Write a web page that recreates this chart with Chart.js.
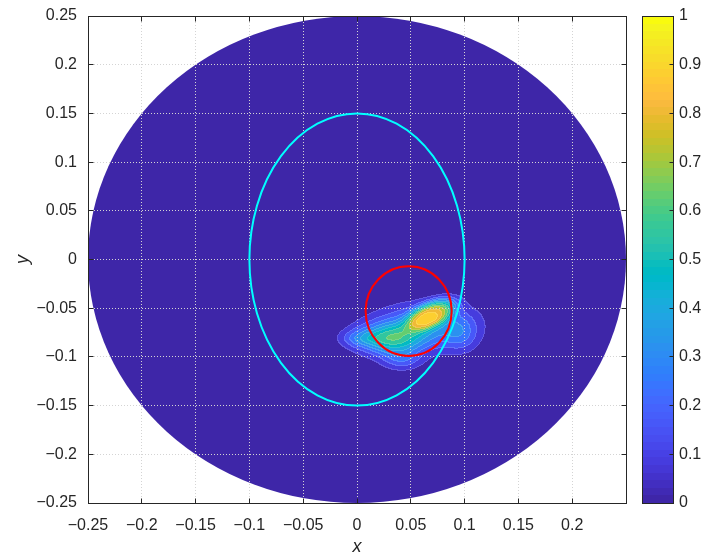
<!DOCTYPE html>
<html>
<head>
<meta charset="utf-8">
<script src="https://cdn.jsdelivr.net/npm/chart.js@4.4.1/dist/chart.umd.min.js"></script>
<style>
  html, body { margin: 0; padding: 0; background: #fff; }
  canvas { display: block; }
</style>
</head>
<body>
<canvas id="myChart" width="702" height="560"></canvas>
<script>
// axis ticks
const xTicks = [-0.25, -0.2, -0.15, -0.1, -0.05, 0, 0.05, 0.1, 0.15, 0.2];
const yTicks = [-0.25, -0.2, -0.15, -0.1, -0.05, 0, 0.05, 0.1, 0.15, 0.2, 0.25];
const cbTicks = [0, 0.1, 0.2, 0.3, 0.4, 0.5, 0.6, 0.7, 0.8, 0.9, 1];

// contour levels of the filled plot
const levels = [0.08, 0.16, 0.24, 0.32, 0.4, 0.48, 0.56, 0.64, 0.72, 0.8, 0.88];

// disk the field lives on (radius, data units)
const domainRadius = 0.25;

// bumps that make up the intensity blob
const bumpX = [0.069, 0.06, 0.03, 0.002, 0.042, 0.097];
const bumpY = [-0.057, -0.07, -0.082, -0.081, -0.103, -0.077];
const bumpAmp = [0.65, 0.36, 0.44, 0.15, 0.18, 0.17];
const bumpSx = [0.019, 0.032, 0.02, 0.012, 0.013, 0.011];
const bumpSy = [0.0095, 0.016, 0.0105, 0.006, 0.008, 0.013];
const bumpAngle = [28, 5, 0, 0, 0, 0];
const bumpPow = [1.5, 1, 1, 1, 1, 1];

// overlay curves: center x, center y, radius x, radius y
const cyanEllipse = [0, 0, 0.1, 0.15];
const redCircle = [0.048, -0.053, 0.04, 0.046];

// parula, 64 entries
const parula = [
  [0.2422,0.1504,0.6603],[0.2504,0.1650,0.7076],[0.2578,0.1818,0.7511],[0.2647,0.1978,0.7952],
  [0.2706,0.2147,0.8364],[0.2751,0.2342,0.8710],[0.2783,0.2559,0.8991],[0.2803,0.2782,0.9221],
  [0.2813,0.3006,0.9414],[0.2810,0.3228,0.9579],[0.2795,0.3447,0.9717],[0.2760,0.3667,0.9829],
  [0.2699,0.3892,0.9906],[0.2602,0.4123,0.9952],[0.2440,0.4358,0.9988],[0.2206,0.4603,0.9973],
  [0.1963,0.4847,0.9892],[0.1834,0.5074,0.9798],[0.1786,0.5289,0.9682],[0.1764,0.5499,0.9520],
  [0.1687,0.5703,0.9359],[0.1540,0.5902,0.9218],[0.1460,0.6091,0.9079],[0.1380,0.6276,0.8973],
  [0.1248,0.6459,0.8883],[0.1113,0.6635,0.8763],[0.0952,0.6798,0.8598],[0.0689,0.6948,0.8394],
  [0.0297,0.7082,0.8163],[0.0036,0.7203,0.7917],[0.0067,0.7312,0.7660],[0.0433,0.7411,0.7394],
  [0.0964,0.7500,0.7120],[0.1408,0.7584,0.6842],[0.1717,0.7670,0.6554],[0.1938,0.7758,0.6251],
  [0.2161,0.7843,0.5923],[0.2470,0.7918,0.5567],[0.2906,0.7973,0.5188],[0.3406,0.8008,0.4789],
  [0.3909,0.8029,0.4354],[0.4456,0.8024,0.3909],[0.5044,0.7993,0.3480],[0.5616,0.7942,0.3045],
  [0.6174,0.7876,0.2612],[0.6720,0.7793,0.2227],[0.7242,0.7698,0.1910],[0.7738,0.7598,0.1646],
  [0.8203,0.7498,0.1535],[0.8634,0.7406,0.1596],[0.9035,0.7330,0.1774],[0.9393,0.7288,0.2100],
  [0.9728,0.7298,0.2394],[0.9956,0.7434,0.2371],[0.9970,0.7659,0.2199],[0.9952,0.7893,0.2028],
  [0.9892,0.8136,0.1885],[0.9818,0.8380,0.1758],[0.9743,0.8628,0.1641],[0.9672,0.8872,0.1535],
  [0.9615,0.9115,0.1427],[0.9583,0.9351,0.1311],[0.9598,0.9594,0.1150],[0.9764,0.9831,0.0538]
];

const axisColor = "#262626";
const fontFamily = "'Liberation Sans', Arial, sans-serif";

function parulaRGB(v) {
  const i = Math.max(0, Math.min(63, Math.floor(v * 64)));
  return parula[i].map((c) => Math.round(c * 255));
}
function rgbStr(c) {
  return `rgb(${c[0]},${c[1]},${c[2]})`;
}

function field(x, y) {
  let s = 0;
  for (let i = 0; i < bumpAmp.length; i++) {
    const dx = x - bumpX[i];
    const dy = y - bumpY[i];
    const a = (bumpAngle[i] * Math.PI) / 180;
    const u = dx * Math.cos(a) + dy * Math.sin(a);
    const v = -dx * Math.sin(a) + dy * Math.cos(a);
    const r2 = (u / bumpSx[i]) ** 2 + (v / bumpSy[i]) ** 2;
    s += bumpAmp[i] * Math.exp(-0.5 * Math.pow(r2, bumpPow[i]));
  }
  return s;
}

function bandOf(f) {
  let b = -1;
  for (let i = 0; i < levels.length; i++) if (f >= levels[i]) b = i;
  return b;
}

const fmt = (v) => String(Math.round(v * 100) / 100).replace("-", "\u2212");

// filled disk + contour bands, under the grid
const fieldLayer = {
  id: "fieldLayer",
  beforeDraw(chart) {
    const { ctx, chartArea: a } = chart;
    const xs = chart.scales.x;
    const ys = chart.scales.y;
    ctx.save();
    ctx.fillStyle = "#fff";
    ctx.fillRect(0, 0, chart.width, chart.height);

    const cx = xs.getPixelForValue(0);
    const cy = ys.getPixelForValue(0);
    const rx = xs.getPixelForValue(domainRadius) - cx;
    const ry = cy - ys.getPixelForValue(domainRadius);
    ctx.fillStyle = rgbStr(parulaRGB(0));
    ctx.beginPath();
    ctx.ellipse(cx, cy, rx, ry, 0, 0, 2 * Math.PI);
    ctx.fill();

    const w = Math.round(a.right - a.left);
    const h = Math.round(a.bottom - a.top);
    const off = document.createElement("canvas");
    off.width = w;
    off.height = h;
    const octx = off.getContext("2d");
    const img = octx.createImageData(w, h);
    const band = new Int8Array(w * h);
    for (let j = 0; j < h; j++) {
      const yv = ys.getValueForPixel(a.top + j + 0.5);
      for (let i = 0; i < w; i++) {
        const xv = xs.getValueForPixel(a.left + i + 0.5);
        band[j * w + i] = bandOf(field(xv, yv));
      }
    }
    const cols = levels.map((l) => parulaRGB(l));
    for (let j = 0; j < h; j++) {
      for (let i = 0; i < w; i++) {
        const k = j * w + i;
        let b = band[k];
        let edge = false;
        if (i + 1 < w && band[k + 1] !== b) { edge = true; b = Math.max(b, band[k + 1]); }
        if (j + 1 < h && band[k + w] !== band[k]) { edge = true; b = Math.max(b, band[k + w]); }
        if (b < 0) continue;
        let c = cols[b];
        if (edge) c = c.map((v) => Math.round(v * 0.85 + 255 * 0.15));
        img.data[k * 4] = c[0];
        img.data[k * 4 + 1] = c[1];
        img.data[k * 4 + 2] = c[2];
        img.data[k * 4 + 3] = 255;
      }
    }
    octx.putImageData(img, 0, 0);
    ctx.drawImage(off, a.left, a.top);
    ctx.restore();
  },
};

const align = (p) => Math.round(p - 0.5) + 0.5;

// curves, axes box, inward ticks and the colour bar
const overlay = {
  id: "overlay",
  afterDraw(chart) {
    const { ctx, chartArea: a } = chart;
    const xs = chart.scales.x;
    const ys = chart.scales.y;
    const cb = chart.scales.cb;
    ctx.save();

    const drawEll = (e, color) => {
      const cx = xs.getPixelForValue(e[0]);
      const cy = ys.getPixelForValue(e[1]);
      const rx = Math.abs(xs.getPixelForValue(e[0] + e[2]) - cx);
      const ry = Math.abs(ys.getPixelForValue(e[1] + e[3]) - cy);
      ctx.strokeStyle = color;
      ctx.lineWidth = 2;
      ctx.beginPath();
      ctx.ellipse(cx, cy, rx, ry, 0, 0, 2 * Math.PI);
      ctx.stroke();
    };
    drawEll(cyanEllipse, "#00ffff");
    drawEll(redCircle, "#ff0000");

    // box
    ctx.strokeStyle = axisColor;
    ctx.lineWidth = 1;
    const L = align(a.left), R = align(a.right), T = align(a.top), B = align(a.bottom);
    ctx.strokeRect(L, T, R - L, B - T);
    const tl = 5;
    ctx.beginPath();
    xTicks.forEach((v) => {
      const p = align(xs.getPixelForValue(v));
      ctx.moveTo(p, B); ctx.lineTo(p, B - tl);
      ctx.moveTo(p, T); ctx.lineTo(p, T + tl);
    });
    yTicks.forEach((v) => {
      const p = align(ys.getPixelForValue(v));
      ctx.moveTo(L, p); ctx.lineTo(L + tl, p);
      ctx.moveTo(R, p); ctx.lineTo(R - tl, p);
    });
    ctx.stroke();

    // colour bar
    const bx0 = cb.left + 16;
    const bx1 = cb.left + 47;
    for (let i = 0; i < 64; i++) {
      const top = Math.round(cb.getPixelForValue((i + 1) / 64));
      const bot = Math.round(cb.getPixelForValue(i / 64));
      ctx.fillStyle = rgbStr(parula[i].map((c) => Math.round(c * 255)));
      ctx.fillRect(bx0, top, bx1 - bx0, bot - top);
    }
    ctx.strokeStyle = axisColor;
    const cT = align(cb.top), cB = align(cb.bottom);
    ctx.strokeRect(align(bx0), cT, bx1 - bx0, cB - cT);
    ctx.beginPath();
    cbTicks.forEach((v) => {
      const p = align(cb.getPixelForValue(v));
      ctx.moveTo(align(bx1), p); ctx.lineTo(align(bx1) - 4, p);
    });
    ctx.stroke();
    ctx.restore();
  },
};

const tickFont = { family: fontFamily, size: 16 };
const titleFont = { family: fontFamily, size: 18, style: "italic" };
const clear = "rgba(0,0,0,0)";

const ctx = document.getElementById("myChart");
new Chart(ctx, {
  type: "scatter",
  data: { datasets: [] },
  options: {
    responsive: false,
    animation: false,
    layout: { padding: { top: 16, left: 0, right: 0, bottom: 0 } },
    plugins: { legend: { display: false }, tooltip: { enabled: false } },
    scales: {
      x: {
        type: "linear",
        position: "bottom",
        min: -0.25,
        max: 0.25,
        afterBuildTicks: (s) => { s.ticks = xTicks.map((v) => ({ value: v })); },
        afterFit: (s) => { s.height = 57; },
        grid: { color: "#d4d4d4", lineWidth: 1, drawTicks: true, tickLength: 13, tickColor: clear },
        border: { display: false, dash: [1, 2] },
        ticks: { padding: 0, color: axisColor, font: tickFont, maxRotation: 0, autoSkip: false, callback: (v) => fmt(v) },
        title: { display: true, text: "x", color: axisColor, font: titleFont, padding: { top: 0, bottom: 2 } },
      },
      y: {
        type: "linear",
        position: "left",
        min: -0.25,
        max: 0.25,
        afterBuildTicks: (s) => { s.ticks = yTicks.map((v) => ({ value: v })); },
        afterFit: (s) => { s.width = 88; },
        grid: { color: "#d4d4d4", lineWidth: 1, drawTicks: true, tickLength: 11, tickColor: clear },
        border: { display: false, dash: [1, 2] },
        ticks: { padding: 0, color: axisColor, font: tickFont, autoSkip: false, callback: (v) => fmt(v) },
        title: { display: true, text: "y", color: axisColor, font: titleFont, padding: { top: 12, bottom: 0 } },
      },
      cb: {
        type: "linear",
        position: "right",
        min: 0,
        max: 1,
        afterBuildTicks: (s) => { s.ticks = cbTicks.map((v) => ({ value: v })); },
        afterFit: (s) => { s.width = 76; },
        grid: { display: false, drawTicks: true, tickLength: 53 },
        border: { display: false },
        ticks: { padding: 0, color: axisColor, font: tickFont, autoSkip: false, callback: (v) => fmt(v) },
      },
    },
  },
  plugins: [fieldLayer, overlay],
});
</script>
</body>
</html>
